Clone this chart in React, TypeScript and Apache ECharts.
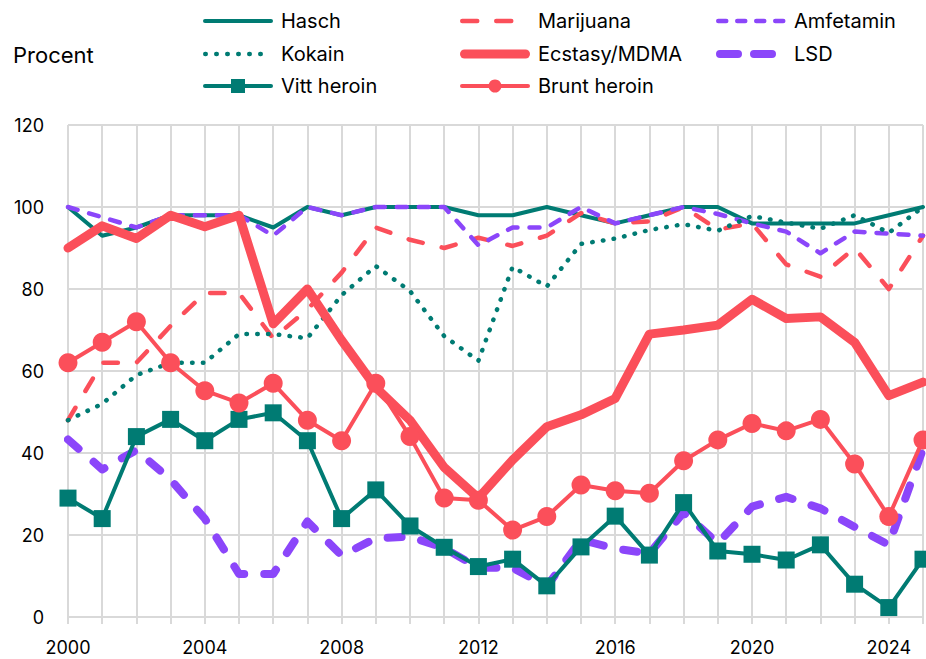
import React, { useEffect, useRef } from "react";
import * as echarts from "echarts";

const years = [
  "2000","2001","2002","2003","2004","2005","2006","2007","2008","2009",
  "2010","2011","2012","2013","2014","2015","2016","2017","2018","2019",
  "2020","2021","2022","2023","2024","2025",
];
const hasch = [100,93,95,98,98,98,95,100,98,100,100,100,98,98,100,98,96,98,100,100,96,96,96,96,98,100];
const marijuana = [48,62,62,71,79,79,68,75,84,95,92,90,92.5,90.5,93,98.5,96,96.5,100,94.5,96,86,83,90,80,93];
const amfetamin = [100,97.5,95,98,98,98,93,100,98,100,100,100,90.7,95,95,100,96,98,100,98.3,96,94,88.7,94,93.5,93];
const kokain = [48,52,59,62,62,69,69,68,78.5,85.6,79.5,68.5,62.5,85.4,80.6,91,92.3,94.4,95.8,94.2,97.8,96.2,94.7,98,93.7,100];
const ecstasy = [90,95.4,92.3,98,95.2,98,71.5,80,67.5,56,48,36.5,29,38.3,46.4,49.3,53.3,69,70,71.2,77.5,72.8,73.2,67,54,57.3];
const lsd = [43.3,36,40.7,33.5,24,10.5,10.5,23.3,15,19.2,19.6,16.8,12,12,7.5,18.8,16.7,15.5,25.5,18,26.9,29.3,26.5,22,17.6,41];
const vittHeroin = [29,24,44,48.2,43,48.2,49.8,43,24,31,22.2,17,12.3,14.1,7.6,17.1,24.6,15.1,27.9,16.1,15.3,13.9,17.6,8,2.3,14.1];
const bruntHeroin = [62,67,72,62,55.2,52.2,57,48,43,57,44,29,28.5,21.2,24.5,32.2,30.8,30.2,38.1,43.2,47.2,45.4,48.2,37.3,24.5,43.2];
const yTicks = [0, 20, 40, 60, 80, 100, 120];

const TEAL = "#007B73";
const RED = "#FB4F5A";
const PURPLE = "#8B46FA";
const FONT = "Inter";

type Style = {
  name: string;
  data: number[];
  color: string;
  width: number;
  dash: number[] | null;
  legendDash: number[] | null;
  symbol?: "rect" | "circle";
  symbolSize?: number;
};

const seriesDefs: Style[] = [
  { name: "Hasch", data: hasch, color: TEAL, width: 4, dash: null, legendDash: null },
  { name: "Marijuana", data: marijuana, color: RED, width: 4.5, dash: [14.5, 19.5], legendDash: [15, 19] },
  { name: "Amfetamin", data: amfetamin, color: PURPLE, width: 4.5, dash: [10, 12], legendDash: [8, 11] },
  { name: "Kokain", data: kokain, color: TEAL, width: 4.5, dash: [0.5, 10.3], legendDash: [0.5, 10.5] },
  { name: "Ecstasy/MDMA", data: ecstasy, color: RED, width: 9, dash: null, legendDash: null },
  { name: "LSD", data: lsd, color: PURPLE, width: 8, dash: [14, 20], legendDash: [18, 16] },
  { name: "Vitt heroin", data: vittHeroin, color: TEAL, width: 4, dash: null, legendDash: null, symbol: "rect", symbolSize: 17 },
  { name: "Brunt heroin", data: bruntHeroin, color: RED, width: 4, dash: null, legendDash: null, symbol: "circle", symbolSize: 19 },
];

// legend layout: column x positions and row y positions (row-major order)
const legendCols = [203, 460, 716];
const legendRows = [21, 54, 86];
const legendLineLength = 70;

export default function App() {
  const ref = useRef<HTMLDivElement>(null);
  useEffect(() => {
    if (!ref.current) return;
    const chart = echarts.init(ref.current, undefined, { renderer: "svg" });

    const legendGraphics: any[] = [];
    seriesDefs.forEach((s, i) => {
      const x0 = legendCols[i % 3];
      const y = legendRows[Math.floor(i / 3)];
      const x1 = x0 + legendLineLength;
      legendGraphics.push({
        type: "line",
        shape: { x1: x0 + s.width / 2, y1: y, x2: x1 - s.width / 2, y2: y },
        style: {
          stroke: s.color,
          lineWidth: s.width,
          lineDash: s.legendDash || undefined,
          lineCap: "round",
        },
        silent: true,
      });
      const cx = x0 + legendLineLength / 2;
      if (s.symbol === "rect") {
        legendGraphics.push({
          type: "rect",
          shape: { x: cx - 7, y: y - 7, width: 14, height: 14 },
          style: { fill: s.color },
          silent: true,
        });
      } else if (s.symbol === "circle") {
        legendGraphics.push({
          type: "circle",
          shape: { cx, cy: y, r: 6.5 },
          style: { fill: s.color },
          silent: true,
        });
      }
      legendGraphics.push({
        type: "text",
        x: x1 + 8,
        y: y,
        style: {
          text: s.name,
          fontFamily: FONT,
          fontSize: 20,
          fill: "#000",
          verticalAlign: "middle",
          align: "left",
        },
        silent: true,
      });
    });

    chart.setOption({
      animation: false,
      backgroundColor: "#fff",
      textStyle: { fontFamily: FONT },
      grid: { left: 68, right: 3, top: 125, bottom: 42, containLabel: false },
      graphic: [
        {
          type: "text",
          x: 13,
          y: 55,
          style: { text: "Procent", fontFamily: FONT, fontSize: 22, fill: "#000", verticalAlign: "middle" },
        },
        ...legendGraphics,
      ],
      xAxis: {
        type: "category",
        data: years,
        boundaryGap: false,
        axisLine: { show: true, lineStyle: { color: "#d9d9d9", width: 2 } },
        axisTick: { show: true, interval: 0, length: 7, lineStyle: { color: "#d9d9d9", width: 2 } },
        axisLabel: { interval: 3, fontFamily: FONT, fontSize: 18, color: "#000", margin: 21 },
        splitLine: { show: true, interval: 0, lineStyle: { color: "#d9d9d9", width: 2 } },
      },
      yAxis: {
        type: "value",
        min: yTicks[0],
        max: yTicks[yTicks.length - 1],
        interval: 20,
        axisLine: { show: false },
        axisTick: { show: false },
        axisLabel: { fontFamily: FONT, fontSize: 18, color: "#000", margin: 24 },
        splitLine: { show: true, lineStyle: { color: "#d9d9d9", width: 2 } },
      },
      series: seriesDefs.map((s) => ({
        name: s.name,
        type: "line",
        data: s.data,
        symbol: s.symbol || "none",
        symbolSize: s.symbolSize || 0,
        showSymbol: !!s.symbol,
        lineStyle: { color: s.color, width: s.width, type: s.dash || "solid", cap: "round", join: "round" },
        itemStyle: { color: s.color },
      })),
    });
    return () => chart.dispose();
  }, []);
  return <div ref={ref} style={{ width: 926, height: 659, position: "absolute", left: 0, top: 0 }} />;
}
